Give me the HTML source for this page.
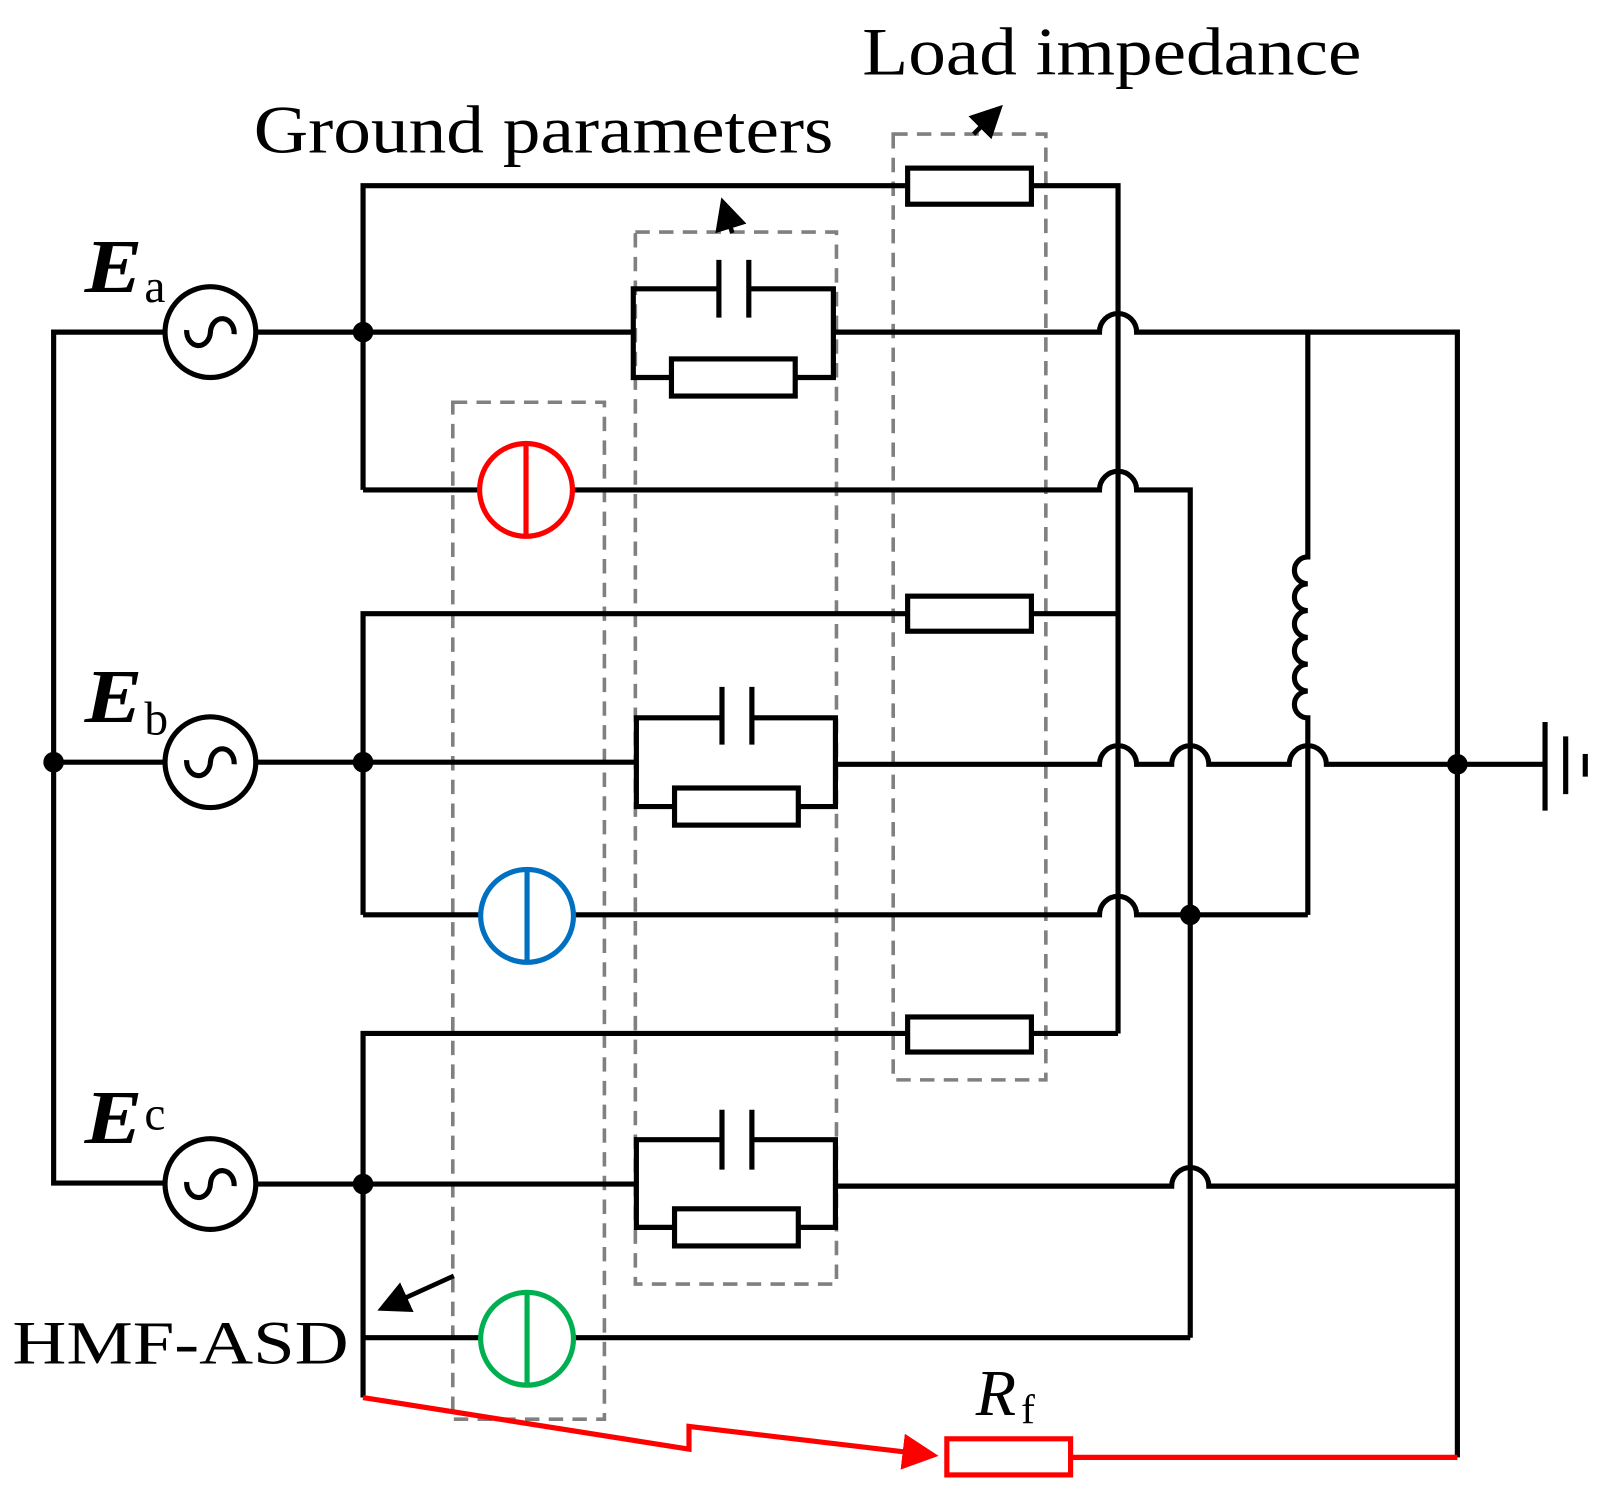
<!DOCTYPE html>
<html><head><meta charset="utf-8"><style>
html,body{margin:0;padding:0;background:#fff;}
svg{display:block;}
text{font-family:"Liberation Serif",serif;}
</style></head><body>
<svg width="1609" height="1491" viewBox="0 0 1560 1445.6" xmlns="http://www.w3.org/2000/svg">
<defs>
<marker id="ah" markerWidth="7" markerHeight="7" refX="5" refY="3.5" orient="auto" markerUnits="strokeWidth">
<path d="M0,0 L7,3.5 L0,7 z" fill="#000"/></marker>
<marker id="ahr" markerWidth="7" markerHeight="7" refX="6" refY="3.5" orient="auto" markerUnits="strokeWidth">
<path d="M0,0 L7,3.5 L0,7 z" fill="#f00"/></marker>
</defs>
<g fill="none" stroke="#808080" stroke-width="3.5" stroke-dasharray="14,9">
<rect x="439" y="390" width="147" height="986"/>
<rect x="616" y="225" width="195" height="1020"/>
<rect x="866" y="130" width="148" height="917"/>
</g>
<g fill="none" stroke="#000" stroke-width="5" stroke-linejoin="miter">
<polyline points="160,322 52,322 52,1147 160,1147"/>
<line x1="52" y1="739" x2="160" y2="739"/>
<line x1="248" y1="322" x2="352" y2="322"/>
<line x1="248" y1="739" x2="352" y2="739"/>
<line x1="248" y1="1148" x2="352" y2="1148"/>
<polyline points="352,475 352,180 880,180"/>
<polyline points="1000,180 1084,180 1084,1002"/>
<rect x="880" y="163" width="120" height="35"/>
<line x1="352" y1="322" x2="614" y2="322"/>
<polyline points="697,280 614,280 614,366 651,366"/>
<polyline points="726,280 808,280 808,366 771,366"/>
<line x1="697" y1="252" x2="697" y2="308"/><line x1="726" y1="252" x2="726" y2="308"/>
<rect x="651" y="348" width="120" height="36"/>
<path d="M808,322 L1066,322 A18,18 0 0 1 1102,322 L1413,322 L1413,1413"/>
<line x1="352" y1="475" x2="465" y2="475"/>
<path d="M555,475 L1066,475 A18,18 0 0 1 1102,475 L1154,475 L1154,1297"/>
<path d="M1268,322 L1268,540 A13,13 0 1 0 1268,566 A13,13 0 1 0 1268,592 A13,13 0 1 0 1268,618 A13,13 0 1 0 1268,644 A13,13 0 1 0 1268,670 A13,13 0 1 0 1268,696 L1268,887"/>
<polyline points="352,887 352,595 880,595"/>
<line x1="1000" y1="595" x2="1084" y2="595"/>
<rect x="880" y="578" width="120" height="34"/>
<line x1="352" y1="739" x2="617" y2="739"/>
<polyline points="700,696 617,696 617,782 654,782"/>
<polyline points="729,696 810,696 810,782 774,782"/>
<line x1="700" y1="666" x2="700" y2="722"/><line x1="729" y1="666" x2="729" y2="722"/>
<rect x="654" y="764" width="120" height="36"/>
<path d="M810,741 L1066,741 A18,18 0 0 1 1102,741 L1136,741 A18,18 0 0 1 1172,741 L1250,741 A18,18 0 0 1 1286,741 L1498,741"/>
<line x1="1498" y1="700" x2="1498" y2="786"/>
<line x1="1518" y1="714" x2="1518" y2="770"/>
<line x1="1537" y1="731" x2="1537" y2="753"/>
<line x1="352" y1="887" x2="466" y2="887"/>
<path d="M556,887 L1066,887 A18,18 0 0 1 1102,887 L1268,887"/>
<polyline points="352,1355 352,1002 880,1002"/>
<line x1="1000" y1="1002" x2="1084" y2="1002"/>
<rect x="880" y="986" width="120" height="34"/>
<line x1="352" y1="1148" x2="617" y2="1148"/>
<polyline points="700,1105 617,1105 617,1190 654,1190"/>
<polyline points="729,1105 810,1105 810,1190 774,1190"/>
<line x1="700" y1="1076" x2="700" y2="1134"/><line x1="729" y1="1076" x2="729" y2="1134"/>
<rect x="654" y="1172" width="120" height="36"/>
<path d="M810,1150 L1136,1150 A18,18 0 0 1 1172,1150 L1413,1150"/>
<line x1="352" y1="1297" x2="466" y2="1297"/>
<line x1="556" y1="1297" x2="1154" y2="1297"/>
<circle cx="204" cy="322" r="44"/><circle cx="204" cy="739" r="44"/><circle cx="204" cy="1148" r="44"/>
<path d="M181,320 A11.5,14 0 0 0 204,322 A11.5,14 0 0 1 227,324"/>
<path d="M181,737 A11.5,14 0 0 0 204,739 A11.5,14 0 0 1 227,741"/>
<path d="M181,1146 A11.5,14 0 0 0 204,1148 A11.5,14 0 0 1 227,1150"/>
</g>
<g stroke="#000" stroke-width="4.5" fill="none">
<line x1="710" y1="226" x2="702" y2="200" marker-end="url(#ah)"/>
<line x1="944" y1="130" x2="966" y2="108" marker-end="url(#ah)"/>
<line x1="440" y1="1237" x2="374" y2="1267" marker-end="url(#ah)"/>
</g>
<g fill="none" stroke-width="5">
<circle cx="510" cy="475" r="45" stroke="#f00"/><line x1="510" y1="430" x2="510" y2="520" stroke="#f00"/>
<circle cx="511" cy="888" r="45" stroke="#0070c0"/><line x1="511" y1="843" x2="511" y2="933" stroke="#0070c0"/>
<circle cx="511" cy="1298" r="45" stroke="#00b050"/><line x1="511" y1="1253" x2="511" y2="1343" stroke="#00b050"/>
</g>
<g fill="none" stroke="#f00" stroke-width="5">
<polyline points="352,1355 668,1405 668,1383 905,1411" marker-end="url(#ahr)"/>
<rect x="918" y="1395" width="120" height="35"/>
<line x1="1038" y1="1413" x2="1413" y2="1413"/>
</g>
<g fill="#000">
<circle cx="52" cy="739" r="10"/>
<circle cx="352" cy="322" r="10"/><circle cx="352" cy="739" r="10"/><circle cx="352" cy="1148" r="10"/>
<circle cx="1154" cy="887" r="10"/><circle cx="1413" cy="741" r="10"/>
</g>
<text x="836" y="72" font-size="66" textLength="484" lengthAdjust="spacingAndGlyphs">Load impedance</text>
<text x="246" y="148" font-size="66" textLength="562" lengthAdjust="spacingAndGlyphs">Ground parameters</text>
<text x="12" y="1322" font-size="60" textLength="326" lengthAdjust="spacingAndGlyphs">HMF-ASD</text>
<g font-weight="bold" font-style="italic" font-size="74">
<text x="82" y="283" textLength="56" lengthAdjust="spacingAndGlyphs">E</text>
<text x="82" y="700" textLength="56" lengthAdjust="spacingAndGlyphs">E</text>
<text x="82" y="1108" textLength="56" lengthAdjust="spacingAndGlyphs">E</text>
</g>
<g font-size="46">
<text x="140" y="293">a</text><text x="140" y="712">b</text><text x="140" y="1095">c</text>
</g>
<text x="946" y="1372" font-size="64" font-style="italic">R</text>
<text x="990" y="1380" font-size="40">f</text>
</svg>
</body></html>
